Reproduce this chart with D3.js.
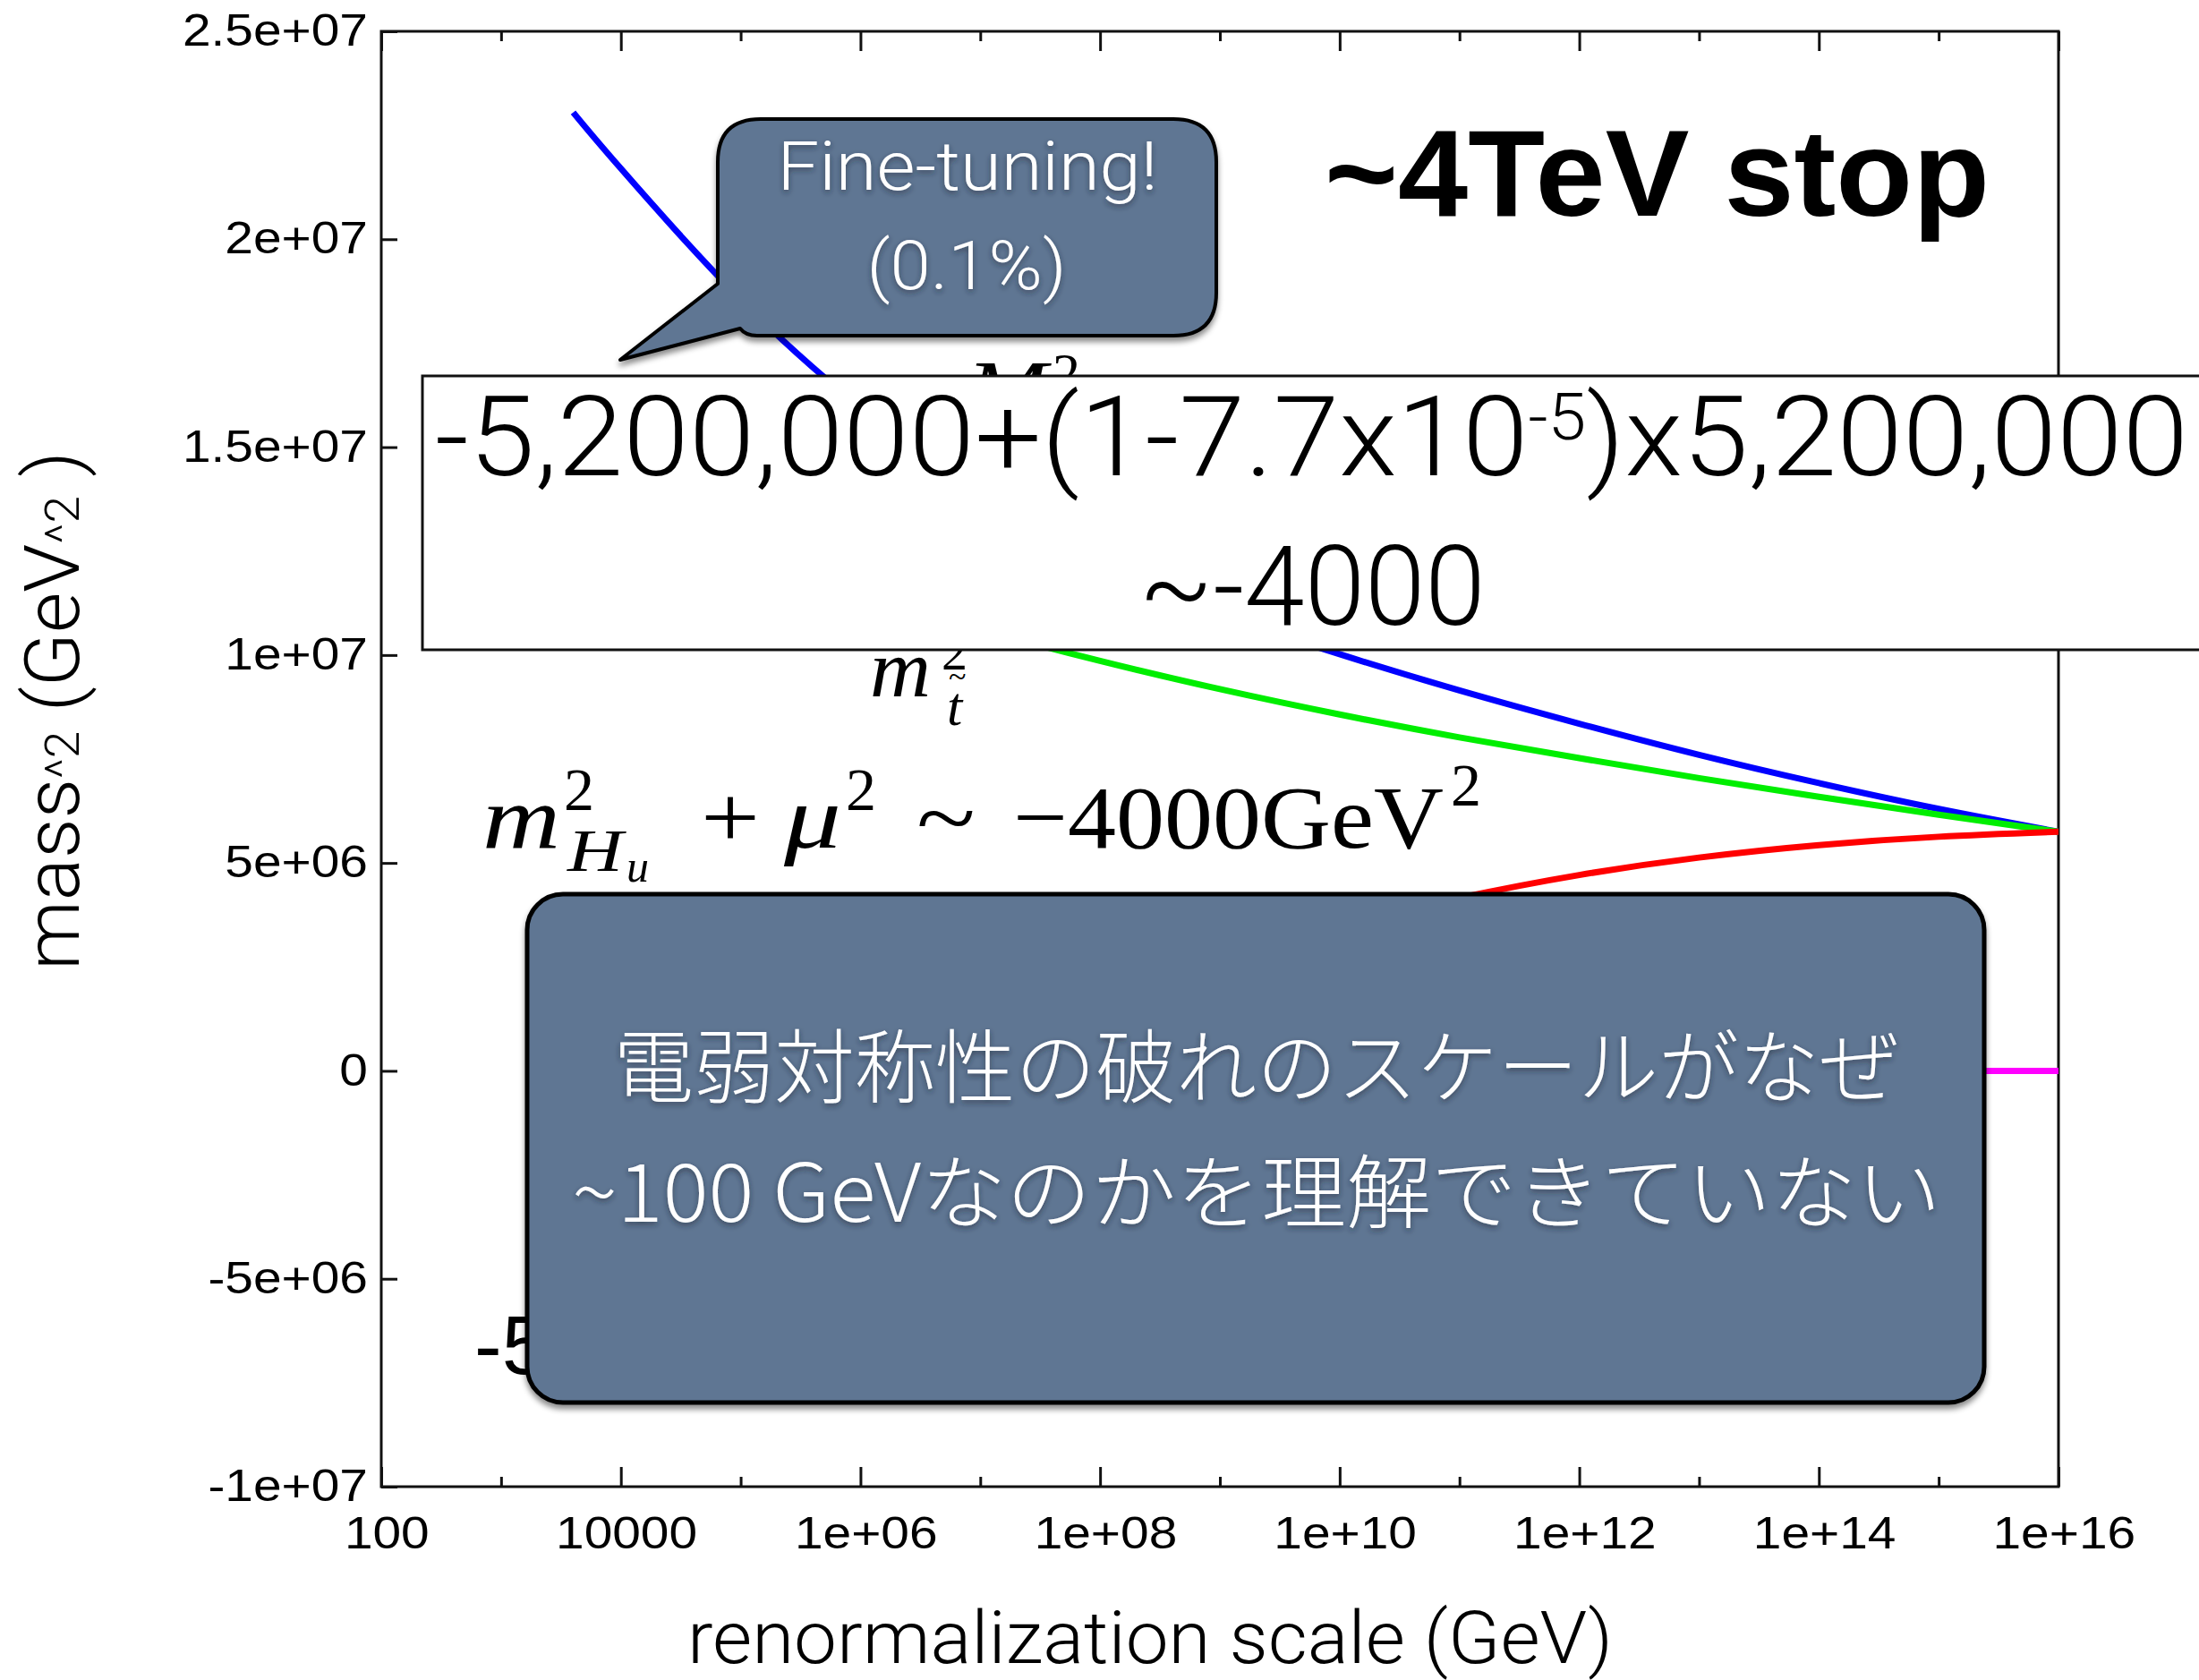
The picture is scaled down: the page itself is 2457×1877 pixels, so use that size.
<!DOCTYPE html>
<html>
<head>
<meta charset="utf-8">
<script src="https://cdn.jsdelivr.net/npm/d3@7"></script>
<style>
  body { margin: 0; background: #fff; }
  svg { display: block; }
</style>
</head>
<body>
<script>
// renormalization scale points (GeV) shared by every curve
const scaleGeV = [4e3, 1e4, 1e5, 1e6, 1e7, 1e8, 1e9, 1e10, 1e11, 1e12, 1e13, 1e14, 1e15, 1e16];
// mass^2 (GeV^2)
const gluinoM2 = [2.305e7, 2.17e7, 1.855e7, 1.595e7, 1.38e7, 1.22e7, 1.10e7, 1.002e7, 9.15e6, 8.35e6, 7.6e6, 6.92e6, 6.3e6, 5.75e6];
const stopM2   = [1.393e7, 1.348e7, 1.242e7, 1.147e7, 1.062e7, 9.86e6, 9.18e6, 8.57e6, 8.02e6, 7.52e6, 7.04e6, 6.59e6, 6.16e6, 5.75e6];
const higgsM2  = [-5.2e6, -3.7e6, -1.5e6, -2.0e5, 9.0e5, 1.88e6, 2.74e6, 3.5e6, 4.16e6, 4.71e6, 5.13e6, 5.43e6, 5.63e6, 5.75e6];
const sumM2    = [0, 0, 0, 0, 0, 0, 0, 0, 0, 0, 0, 0, 0, 0];

const xMajorTicks = [1e2, 1e4, 1e6, 1e8, 1e10, 1e12, 1e14, 1e16];
const xTickLabels = ["100", "10000", "1e+06", "1e+08", "1e+10", "1e+12", "1e+14", "1e+16"];
const xMinorTicks = [1e3, 1e5, 1e7, 1e9, 1e11, 1e13, 1e15];
const yTicks = [-1e7, -5e6, 0, 5e6, 1e7, 1.5e7, 2e7, 2.5e7];
const yTickLabels = ["-1e+07", "-5e+06", "0", "5e+06", "1e+07", "1.5e+07", "2e+07", "2.5e+07"];

const series = [
  { name: "M2", values: gluinoM2, color: "#0000ff" },
  { name: "mstop2", values: stopM2, color: "#00ee00" },
  { name: "mHu2", values: higgsM2, color: "#ff0000" },
  { name: "sum", values: sumM2, color: "#ff00ff" }
];

const W = 2457, H = 1877;
const sans = "'Liberation Sans', Arial, Helvetica, sans-serif";
const light = "'Helvetica Neue', Roboto, 'Liberation Sans', sans-serif";
const serif = "'Liberation Serif', 'Times New Roman', serif";
const cjk = "'Noto Sans CJK JP', 'Noto Sans', sans-serif";
const calloutFill = "#5f7693";

const svg = d3.select("body").append("svg")
  .attr("width", W)
  .attr("height", H);

const defs = svg.append("defs");
defs.append("clipPath").attr("id", "plotclip")
  .append("rect").attr("x", 426).attr("y", 35).attr("width", 1874).attr("height", 1626);
defs.append("filter").attr("id", "boxshadow")
  .attr("x", "-10%").attr("y", "-10%").attr("width", "120%").attr("height", "130%")
  .append("feDropShadow")
  .attr("dx", 0).attr("dy", 5).attr("stdDeviation", 3)
  .attr("flood-color", "#000").attr("flood-opacity", 0.45);
defs.append("filter").attr("id", "textshadow")
  .attr("x", "-10%").attr("y", "-30%").attr("width", "120%").attr("height", "160%")
  .append("feDropShadow")
  .attr("dx", 0).attr("dy", 3).attr("stdDeviation", 3)
  .attr("flood-color", "#1b2533").attr("flood-opacity", 0.6);

// scales
const x = d3.scaleLog().domain([1e2, 1e16]).range([426, 2300]);
const y = d3.scaleLinear().domain([-1e7, 2.5e7]).range([1661, 35]);

// frame
svg.append("rect")
  .attr("x", x.range()[0]).attr("y", y.range()[1])
  .attr("width", x.range()[1] - x.range()[0])
  .attr("height", y.range()[0] - y.range()[1])
  .attr("fill", "none").attr("stroke", "#111").attr("stroke-width", 3);

function styleAxis(g) {
  g.select(".domain").remove();
  g.selectAll(".tick line").attr("stroke", "#111").attr("stroke-width", 3);
  g.selectAll(".tick text")
    .attr("font-family", sans)
    .attr("font-size", 49)
    .attr("fill", "#000")
    .attr("transform", "scale(1.16,1)");
}

// bottom axis, ticks pointing inward
svg.append("g")
  .attr("transform", `translate(0,${y.range()[0]})`)
  .call(d3.axisBottom(x).tickValues(xMajorTicks)
    .tickFormat((d, i) => xTickLabels[i])
    .tickSizeInner(-22).tickSizeOuter(0).tickPadding(34))
  .call(styleAxis)
  .call(g => g.selectAll(".tick text").attr("dx", 5));
svg.append("g")
  .attr("transform", `translate(0,${y.range()[0]})`)
  .call(d3.axisBottom(x).tickValues(xMinorTicks).tickFormat("")
    .tickSizeInner(-11).tickSizeOuter(0))
  .call(styleAxis);

// top axis, mirrored ticks
svg.append("g")
  .attr("transform", `translate(0,${y.range()[1]})`)
  .call(d3.axisTop(x).tickValues(xMajorTicks).tickFormat("")
    .tickSizeInner(-22).tickSizeOuter(0))
  .call(styleAxis);
svg.append("g")
  .attr("transform", `translate(0,${y.range()[1]})`)
  .call(d3.axisTop(x).tickValues(xMinorTicks).tickFormat("")
    .tickSizeInner(-11).tickSizeOuter(0))
  .call(styleAxis);

// left axis
svg.append("g")
  .attr("transform", `translate(${x.range()[0]},0)`)
  .call(d3.axisLeft(y).tickValues(yTicks)
    .tickFormat((d, i) => yTickLabels[i])
    .tickSizeInner(-18).tickSizeOuter(0).tickPadding(13))
  .call(styleAxis);

// axis titles
svg.append("text")
  .attr("x", 1285).attr("y", 1858)
  .attr("text-anchor", "middle")
  .attr("font-family", light).attr("font-weight", 300)
  .attr("font-size", 82)
  .attr("textLength", 1034).attr("lengthAdjust", "spacingAndGlyphs")
  .text("renormalization scale (GeV)");

const yTitle = svg.append("text")
  .attr("transform", "translate(88,794) rotate(-90)")
  .attr("text-anchor", "middle")
  .attr("font-family", light).attr("font-weight", 300)
  .attr("font-size", 86)
  .attr("textLength", 580).attr("lengthAdjust", "spacingAndGlyphs");
yTitle.append("tspan").text("mass");
yTitle.append("tspan").attr("font-size", 54).text("^2");
yTitle.append("tspan").text(" (GeV");
yTitle.append("tspan").attr("font-size", 54).text("^2");
yTitle.append("tspan").text(" )");

// curves
const line = d3.line()
  .x(d => x(d[0]))
  .y(d => y(d[1]))
  .curve(d3.curveNatural);

svg.append("g").attr("clip-path", "url(#plotclip)")
  .selectAll("path")
  .data(series)
  .enter()
  .append("path")
  .attr("d", s => line(scaleGeV.map((g, i) => [g, s.values[i]])))
  .attr("fill", "none")
  .attr("stroke", s => s.color)
  .attr("stroke-width", 7)
  .attr("stroke-linejoin", "round");

// LaTeX-like labels
function tex(str, px, py, size, italic, len) {
  const t = svg.append("text")
    .attr("x", px).attr("y", py)
    .attr("font-family", serif)
    .attr("font-size", size)
    .attr("font-style", italic ? "italic" : "normal")
    .attr("fill", "#000")
    .text(str);
  if (len) t.attr("textLength", len).attr("lengthAdjust", "spacingAndGlyphs");
  return t;
}

// M^2 (mostly hidden by the formula box)
tex("M", 1080, 466, 92, true, 90);
tex("2", 1176, 437, 62, false);
// m_stop^2
tex("m", 972, 778, 92, true, 68);
tex("2", 1052, 748, 58, false);
tex("t", 1058, 810, 62, true);
tex("~", 1060, 768, 36, false);
// m_Hu^2 + mu^2 ~ -4000 GeV^2
tex("m", 539, 947, 100, true, 87);
tex("2", 630, 905, 68, false);
tex("H", 634, 973, 68, true, 62);
tex("u", 700, 985, 50, true);
tex("+", 783, 947, 100, false, 66);
tex("μ", 876, 947, 100, true, 64);
tex("2", 945, 905, 68, false);
tex("~", 1024, 947, 100, false, 66);
tex("−4000GeV", 1132, 947, 100, false, 481);
tex("2", 1621, 900, 68, false);

// -5,200,000 label (hidden by the big callout)
svg.append("text")
  .attr("x", 530).attr("y", 1535)
  .attr("font-family", sans).attr("font-size", 92)
  .text("-5,200,000");

// ~4TeV stop
svg.append("text")
  .attr("x", 1480).attr("y", 241)
  .attr("font-family", sans).attr("font-weight", "bold")
  .attr("font-size", 137)
  .attr("textLength", 743).attr("lengthAdjust", "spacingAndGlyphs")
  .text("~4TeV stop");

// Fine-tuning speech bubble
const bubble = d3.path();
bubble.moveTo(850, 133);
bubble.lineTo(1311, 133);
bubble.quadraticCurveTo(1359, 133, 1359, 181);
bubble.lineTo(1359, 327);
bubble.quadraticCurveTo(1359, 375, 1311, 375);
bubble.lineTo(846, 375);
bubble.quadraticCurveTo(833, 375, 827, 367);
bubble.lineTo(693, 402);
bubble.lineTo(802, 317);
bubble.lineTo(802, 181);
bubble.quadraticCurveTo(802, 133, 850, 133);
bubble.closePath();

svg.append("path")
  .attr("d", bubble.toString())
  .attr("fill", calloutFill)
  .attr("stroke", "#000").attr("stroke-width", 4)
  .attr("stroke-linejoin", "round")
  .attr("filter", "url(#boxshadow)");

const ftLines = [
  { text: "Fine-tuning!", x: 1081, y: 212, len: 425 },
  { text: "(0.1%)", x: 1080, y: 323, len: 223 }
];
svg.selectAll(".ft")
  .data(ftLines)
  .enter()
  .append("text")
  .attr("class", "ft")
  .attr("x", d => d.x).attr("y", d => d.y)
  .attr("text-anchor", "middle")
  .attr("font-family", light).attr("font-weight", 300)
  .attr("font-size", 76)
  .attr("fill", "#fff")
  .attr("textLength", d => d.len).attr("lengthAdjust", "spacingAndGlyphs")
  .attr("filter", "url(#textshadow)")
  .text(d => d.text);

// formula box
svg.append("rect")
  .attr("x", 472).attr("y", 420)
  .attr("width", 2010).attr("height", 306)
  .attr("fill", "#fff")
  .attr("stroke", "#111").attr("stroke-width", 3);

const f1 = svg.append("text")
  .attr("x", 486).attr("y", 531)
  .attr("font-family", light).attr("font-weight", 300)
  .attr("font-size", 124)
  .attr("fill", "#000")
  .attr("textLength", 1959).attr("lengthAdjust", "spacingAndGlyphs");
f1.append("tspan").text("-5,200,000+(1-7.7x10");
f1.append("tspan").attr("font-size", 72).attr("dy", -40).text("-5");
f1.append("tspan").attr("dy", 40).text(")x5,200,000");

svg.append("text")
  .attr("x", 1466).attr("y", 698)
  .attr("text-anchor", "middle")
  .attr("font-family", light).attr("font-weight", 300)
  .attr("font-size", 124)
  .attr("fill", "#000")
  .attr("textLength", 387).attr("lengthAdjust", "spacingAndGlyphs")
  .text("~-4000");

// big callout
svg.append("rect")
  .attr("x", 589).attr("y", 999)
  .attr("width", 1628).attr("height", 568)
  .attr("rx", 40).attr("ry", 40)
  .attr("fill", calloutFill)
  .attr("stroke", "#000").attr("stroke-width", 5)
  .attr("filter", "url(#boxshadow)");

const jpLines = [
  { text: "電弱対称性の破れのスケールがなぜ", y: 1225, len: 1437 },
  { text: "~100 GeVなのかを理解できていない", y: 1365, len: 1530 }
];
svg.selectAll(".jp")
  .data(jpLines)
  .enter()
  .append("text")
  .attr("class", "jp")
  .attr("x", 1404).attr("y", d => d.y)
  .attr("text-anchor", "middle")
  .attr("font-family", cjk).attr("font-weight", 300)
  .attr("font-size", 90)
  .attr("fill", "#fff")
  .attr("textLength", d => d.len).attr("lengthAdjust", "spacingAndGlyphs")
  .attr("filter", "url(#textshadow)")
  .text(d => d.text);
</script>
</body>
</html>
